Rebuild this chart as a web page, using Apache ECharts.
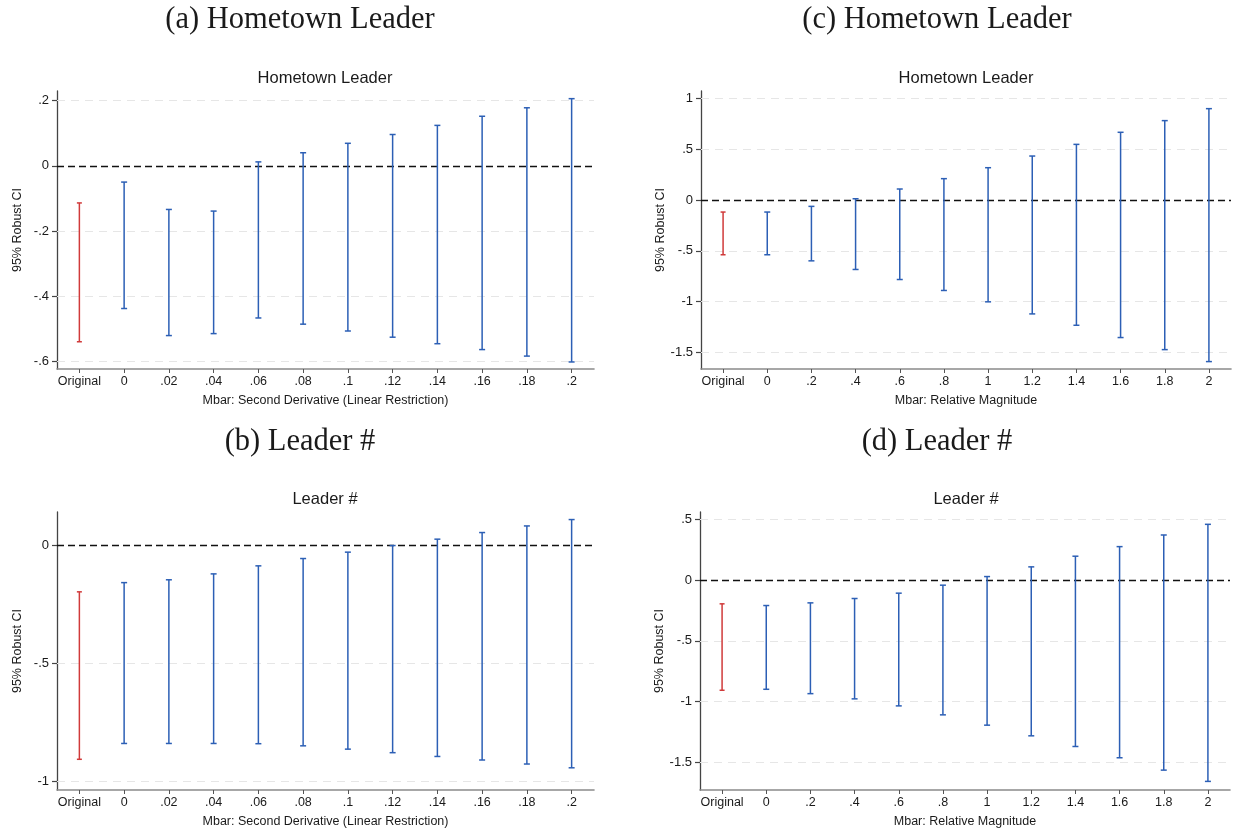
<!DOCTYPE html>
<html>
<head>
<meta charset="utf-8">
<script src="https://cdn.jsdelivr.net/npm/echarts@6/dist/echarts.min.js"></script>
<style>html,body{margin:0;padding:0;background:#fff;}#chart{width:1233px;height:832px;}</style>
</head>
<body>
<div id="chart"></div>
<script>
// ---- Data ----
const catsSecond = ['Original','0','.02','.04','.06','.08','.1','.12','.14','.16','.18','.2'];
const catsRel = ['Original','0','.2','.4','.6','.8','1','1.2','1.4','1.6','1.8','2'];

const aLow  = [-0.540, -0.438, -0.521, -0.515, -0.467, -0.486, -0.507, -0.526, -0.546, -0.564, -0.584, -0.602];
const aHigh = [-0.114, -0.050, -0.134, -0.139,  0.012,  0.040,  0.069,  0.096,  0.124,  0.152,  0.178,  0.206];

const bLow  = [-0.905, -0.838, -0.838, -0.838, -0.839, -0.848, -0.862, -0.877, -0.893, -0.908, -0.925, -0.941];
const bHigh = [-0.196, -0.157, -0.145, -0.120, -0.086, -0.055, -0.028,  0.000,  0.027,  0.055,  0.083,  0.110];

const cLow  = [-0.539, -0.539, -0.599, -0.684, -0.783, -0.891, -1.003, -1.122, -1.234, -1.355, -1.474, -1.592];
const cHigh = [-0.118, -0.118, -0.062,  0.013,  0.109,  0.211,  0.319,  0.434,  0.549,  0.668,  0.783,  0.901];

const dLow  = [-0.908, -0.900, -0.936, -0.979, -1.037, -1.111, -1.196, -1.284, -1.372, -1.465, -1.567, -1.660];
const dHigh = [-0.195, -0.209, -0.187, -0.151, -0.107, -0.041,  0.030,  0.110,  0.198,  0.277,  0.373,  0.461];

const aTicks = [0.2, 0, -0.2, -0.4, -0.6];
const bTicks = [0, -0.5, -1];
const cTicks = [1, 0.5, 0, -0.5, -1, -1.5];
const dTicks = [0.5, 0, -0.5, -1, -1.5];

// axis ranges
const aRange = [-0.6236, 0.2295];
const bRange = [-1.035, 0.142];
const cRange = [-1.665, 1.075];
const dRange = [-1.731, 0.5627];

// ---- Styles ----
const RED = '#d03a3a';
const BLUE = '#2c5fb5';
const TXT = '#1a1a1a';
const SANS = '"Liberation Sans", Arial, Helvetica, sans-serif';
const SERIF = '"Liberation Serif", "DejaVu Serif", serif';

function fmt(v){
  if (v === 0) return '0';
  return String(v).replace(/^(-?)0\./, '$1.');
}

const panels = [
  {cats: catsSecond, low: aLow, high: aHigh, ticks: aTicks, range: aRange,
   grid: {left: 57, top: 91, width: 537, height: 278}, xname: 'Mbar: Second Derivative (Linear Restriction)'},
  {cats: catsSecond, low: bLow, high: bHigh, ticks: bTicks, range: bRange,
   grid: {left: 57, top: 512, width: 537, height: 278}, xname: 'Mbar: Second Derivative (Linear Restriction)'},
  {cats: catsRel, low: cLow, high: cHigh, ticks: cTicks, range: cRange,
   grid: {left: 701, top: 91, width: 530, height: 278}, xname: 'Mbar: Relative Magnitude'},
  {cats: catsRel, low: dLow, high: dHigh, ticks: dTicks, range: dRange,
   grid: {left: 700, top: 512, width: 530, height: 278}, xname: 'Mbar: Relative Magnitude'}
];

function makeRender(color, cap){
  return function(params, api){
    const x = api.value(0), lo = api.value(1), hi = api.value(2);
    const pLo = api.coord([x, lo]);
    const pHi = api.coord([x, hi]);
    const st = {stroke: color, lineWidth: 1.5};
    return {type: 'group', children: [
      {type: 'line', shape: {x1: pLo[0], y1: pLo[1], x2: pHi[0], y2: pHi[1]}, style: st},
      {type: 'line', shape: {x1: pLo[0]-cap, y1: pLo[1], x2: pLo[0]+cap, y2: pLo[1]}, style: st},
      {type: 'line', shape: {x1: pHi[0]-cap, y1: pHi[1], x2: pHi[0]+cap, y2: pHi[1]}, style: st}
    ]};
  };
}

const grids = [], xAxes = [], yAxes = [], series = [];
panels.forEach((p, k) => {
  grids.push(Object.assign({containLabel: false}, p.grid));
  xAxes.push({
    type: 'category', gridIndex: k, data: p.cats, boundaryGap: true, position: 'bottom',
    name: p.xname, nameLocation: 'middle', nameGap: 25,
    nameTextStyle: {fontFamily: SANS, fontSize: 12.5, color: TXT},
    axisLine: {show: true, onZero: false, lineStyle: {color: '#8a8a8a', width: 1.6}},
    axisTick: {show: true, alignWithLabel: true, length: 4, lineStyle: {color: '#555', width: 1}},
    axisLabel: {fontFamily: SANS, fontSize: 12.5, color: TXT, margin: 6, interval: 0},
    splitLine: {show: false}
  });
  yAxes.push({
    type: 'value', gridIndex: k, min: p.range[0], max: p.range[1], position: 'left',
    name: '95% Robust CI', nameLocation: 'middle', nameGap: 33, nameRotate: 90,
    nameTextStyle: {fontFamily: SANS, fontSize: 12.5, color: TXT},
    axisLine: {show: true, onZero: false, lineStyle: {color: '#444', width: 1.3}},
    axisTick: {show: true, length: 5, customValues: p.ticks, lineStyle: {color: '#444', width: 1.2}},
    axisLabel: {fontFamily: SANS, fontSize: 13, color: TXT, margin: 8, customValues: p.ticks, formatter: fmt},
    splitLine: {show: false}
  });
  const gridVals = p.ticks.filter(v => v !== 0);
  const origData = [[0, p.low[0], p.high[0]]];
  const restData = [];
  for (let i = 1; i < p.cats.length; i++) restData.push([i, p.low[i], p.high[i]]);
  series.push({
    type: 'custom', xAxisIndex: k, yAxisIndex: k, renderItem: makeRender(RED, 2.5),
    encode: {x: 0, y: [1, 2]}, data: origData, silent: true, z: 3,
    markLine: {
      silent: true, symbol: 'none', animation: false, label: {show: false},
      data: gridVals.map(v => ({yAxis: v, lineStyle: {color: '#e6e6e6', type: [8, 6], width: 1}})),
      z: 1
    }
  });
  series.push({
    type: 'custom', xAxisIndex: k, yAxisIndex: k, renderItem: makeRender(BLUE, 3),
    encode: {x: 0, y: [1, 2]}, data: restData, silent: true, z: 3,
    markLine: {
      silent: true, symbol: 'none', animation: false, label: {show: false},
      data: [{yAxis: 0, lineStyle: {color: '#111', type: [7, 4], width: 1.4}}],
      z: 2
    }
  });
});

const texts = [
  {t: '(a) Hometown Leader', x: 300, y: 20, f: 'normal 30.5px ' + SERIF},
  {t: '(c) Hometown Leader', x: 937, y: 20, f: 'normal 30.5px ' + SERIF},
  {t: '(b) Leader #', x: 300, y: 442, f: 'normal 30.5px ' + SERIF},
  {t: '(d) Leader #', x: 937, y: 442, f: 'normal 30.5px ' + SERIF},
  {t: 'Hometown Leader', x: 325, y: 78, f: 'normal 16.5px ' + SANS},
  {t: 'Hometown Leader', x: 966, y: 78, f: 'normal 16.5px ' + SANS},
  {t: 'Leader #', x: 325, y: 499, f: 'normal 16.5px ' + SANS},
  {t: 'Leader #', x: 966, y: 499, f: 'normal 16.5px ' + SANS}
];
const graphic = texts.map(o => ({
  type: 'text', x: o.x, y: o.y, silent: true,
  style: {text: o.t, font: o.f, fill: TXT, align: 'center', verticalAlign: 'middle', textAlign: 'center', textVerticalAlign: 'middle'}
}));

const chart = echarts.init(document.getElementById('chart'), null, {renderer: 'canvas'});
chart.setOption({
  animation: false,
  backgroundColor: '#fff',
  grid: grids, xAxis: xAxes, yAxis: yAxes, series: series, graphic: graphic
});
</script>
</body>
</html>
